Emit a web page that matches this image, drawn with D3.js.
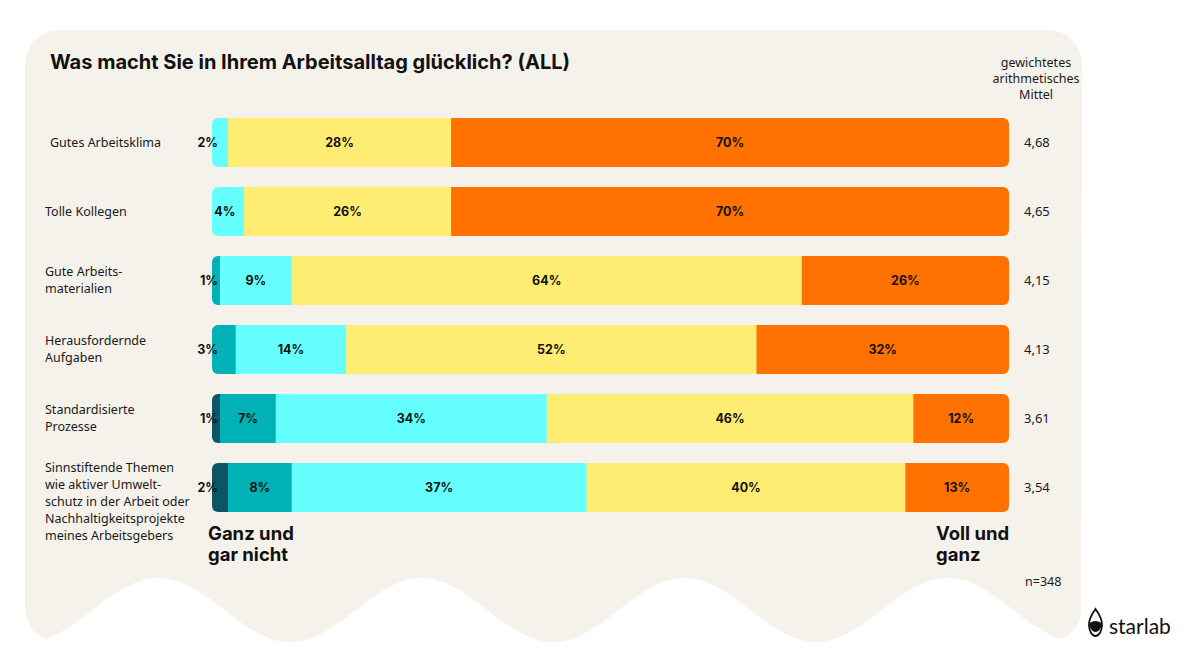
<!DOCTYPE html>
<html lang="de">
<head>
<meta charset="UTF-8">
<title>Was macht Sie in Ihrem Arbeitsalltag glücklich?</title>
<script src="https://d3js.org/d3.v7.min.js"></script>
<style>
    body { margin: 0; background: #fff; }
    svg { display: block; }
    .cat { font-family: "Noto Sans", sans-serif; font-size: 12.5px; fill: #1a1a1a; }
    .val { font-family: Inter, sans-serif; font-weight: 700; font-size: 12.5px; fill: #111; }
    .mean { font-family: "Noto Sans", sans-serif; font-size: 13px; fill: #1a1a1a; }
    .big { font-family: Inter, sans-serif; font-weight: 700; font-size: 18.5px; fill: #111; }
</style>
</head>
<body>
<script>
// Daten (Anteile je Antwortstufe 1..5, von "Ganz und gar nicht" bis "Voll und ganz")
const categories = [
    ["Gutes Arbeitsklima"],
    ["Tolle Kollegen"],
    ["Gute Arbeits-", "materialien"],
    ["Herausfordernde", "Aufgaben"],
    ["Standardisierte", "Prozesse"],
    ["Sinnstiftende Themen", "wie aktiver Umwelt-", "schutz in der Arbeit oder", "Nachhaltigkeitsprojekte", "meines Arbeitsgebers"]
];
const level1 = [0, 0, 0, 0, 1, 2];
const level2 = [0, 0, 1, 3, 7, 8];
const level3 = [2, 4, 9, 14, 34, 37];
const level4 = [28, 26, 64, 52, 46, 40];
const level5 = [70, 70, 26, 32, 12, 13];
const means = ["4,68", "4,65", "4,15", "4,13", "3,61", "3,54"];
const colors = ["#0b5567", "#00b1b5", "#66ffff", "#ffed73", "#ff7100"];

const width = 1191, height = 670;
const svg = d3.select("body").append("svg")
    .attr("width", width)
    .attr("height", height);

// Hintergrund-Karte mit welligem unteren Rand
const cardL = 25, cardR = 1082, cardT = 30, cardB = 642;
const wave = d3.range(cardL, cardR + 1, 2).map(x =>
    [x, 610 + 32 * Math.cos(2 * Math.PI * (x - 27) / 263)]);
const outline = [[cardL, cardT], [cardR, cardT]].concat(wave.slice().reverse());
svg.append("clipPath").attr("id", "card")
    .append("rect")
    .attr("x", cardL).attr("y", cardT)
    .attr("width", cardR - cardL).attr("height", cardB - cardT)
    .attr("rx", 34);
svg.append("path")
    .attr("clip-path", "url(#card)")
    .attr("fill", "#f5f1eb")
    .attr("d", d3.line()(outline) + "Z");

svg.append("text")
    .attr("class", "big")
    .attr("x", 50).attr("y", 69)
    .style("font-size", "20px")
    .text("Was macht Sie in Ihrem Arbeitsalltag glücklich? (ALL)");

// Skalen
const rows = categories.map((c, i) => ({
    key: i,
    label: c,
    values: [level1[i], level2[i], level3[i], level4[i], level5[i]],
    mean: means[i]
}));

const y = d3.scaleBand()
    .domain(rows.map(d => d.key))
    .range([118, 512])
    .paddingInner(20 / 69)
    .paddingOuter(0);

const x = d3.scaleLinear().domain([0, 1]).range([212, 1009]);

const row = svg.append("g").selectAll("g")
    .data(rows)
    .join("g")
    .attr("transform", d => `translate(0,${y(d.key)})`);

const h = y.bandwidth();

// Segmente stapeln (auf Zeilensumme normiert, da Rundung bis 101 % ergibt)
row.each(function (d) {
    const g = d3.select(this);
    const total = d3.sum(d.values);
    let acc = 0;
    const segs = d.values.map((v, k) => {
        const s = { v, k, x0: acc / total, x1: (acc + v) / total };
        acc += v;
        return s;
    }).filter(s => s.v > 0);

    const clipId = "bar" + d.key;
    g.append("clipPath").attr("id", clipId)
        .append("rect")
        .attr("x", x(0)).attr("width", x(1) - x(0))
        .attr("height", h).attr("rx", 6);

    g.append("g").attr("clip-path", `url(#${clipId})`)
        .selectAll("rect")
        .data(segs)
        .join("rect")
        .attr("x", s => x(s.x0))
        .attr("width", s => x(s.x1) - x(s.x0) + 0.5)
        .attr("height", h)
        .attr("fill", s => colors[s.k]);

    g.selectAll("text.val")
        .data(segs)
        .join("text")
        .attr("class", "val")
        .attr("x", s => s.v <= 3 ? x(s.x0) + 6 : (x(s.x0) + x(s.x1)) / 2 - (s.v < 5 ? 3 : 0))
        .attr("y", h / 2)
        .attr("dy", "0.36em")
        .attr("text-anchor", s => s.v <= 3 ? "end" : "middle")
        .text(s => s.v + "%");

    // Kategorie-Beschriftung
    const n = d.label.length;
    const lh = 16.8;
    const first = Math.max(h / 2 - (n - 1) * lh / 2, 5);
    g.append("text")
        .attr("class", "cat")
        .selectAll("tspan")
        .data(d.label)
        .join("tspan")
        .attr("x", d.key === 0 ? 50 : 45)
        .attr("y", (t, j) => first + j * lh)
        .attr("dy", "0.35em")
        .text(t => t);

    g.append("text")
        .attr("class", "mean")
        .attr("x", 1024)
        .attr("y", h / 2)
        .attr("dy", "0.36em")
        .text(d.mean);
});

// Kopf der Mittelwert-Spalte
svg.append("text")
    .attr("class", "cat")
    .attr("text-anchor", "middle")
    .selectAll("tspan")
    .data(["gewichtetes", "arithmetisches", "Mittel"])
    .join("tspan")
    .attr("x", 1036)
    .attr("y", (t, j) => 63 + j * 16)
    .attr("dy", "0.35em")
    .text(t => t);

// Skalen-Enden
[["Ganz und", "gar nicht", 208], ["Voll und", "ganz", 936]].forEach(a => {
    svg.append("text")
        .attr("class", "big")
        .selectAll("tspan")
        .data(a.slice(0, 2))
        .join("tspan")
        .attr("x", a[2])
        .attr("y", (t, j) => 540 + j * 21)
        .text(t => t);
});

svg.append("text")
    .attr("class", "cat")
    .attr("x", 1025).attr("y", 586)
    .text("n=348");

// starlab Logo
const logo = svg.append("g").attr("transform", "translate(1088,608)");
logo.append("path")
    .attr("d", "M7.5,1 C5,5 1,9 1,17 C1,23 4,28 7.5,28 C11,28 14,23 14,17 C14,9 10,5 7.5,1 Z")
    .attr("fill", "none").attr("stroke", "#111").attr("stroke-width", 1.8);
logo.append("path")
    .attr("d", "M1.5,15.5 C4,12 11,12 13.5,15.5 C13.5,20 11,24 7.5,24 C4,24 1.5,20 1.5,15.5 Z")
    .attr("fill", "#111");
logo.append("text")
    .attr("x", 21).attr("y", 26)
    .style("font-family", "Lato, sans-serif")
    .style("font-size", "21px")
    .style("fill", "#111")
    .text("starlab");
</script>
</body>
</html>
